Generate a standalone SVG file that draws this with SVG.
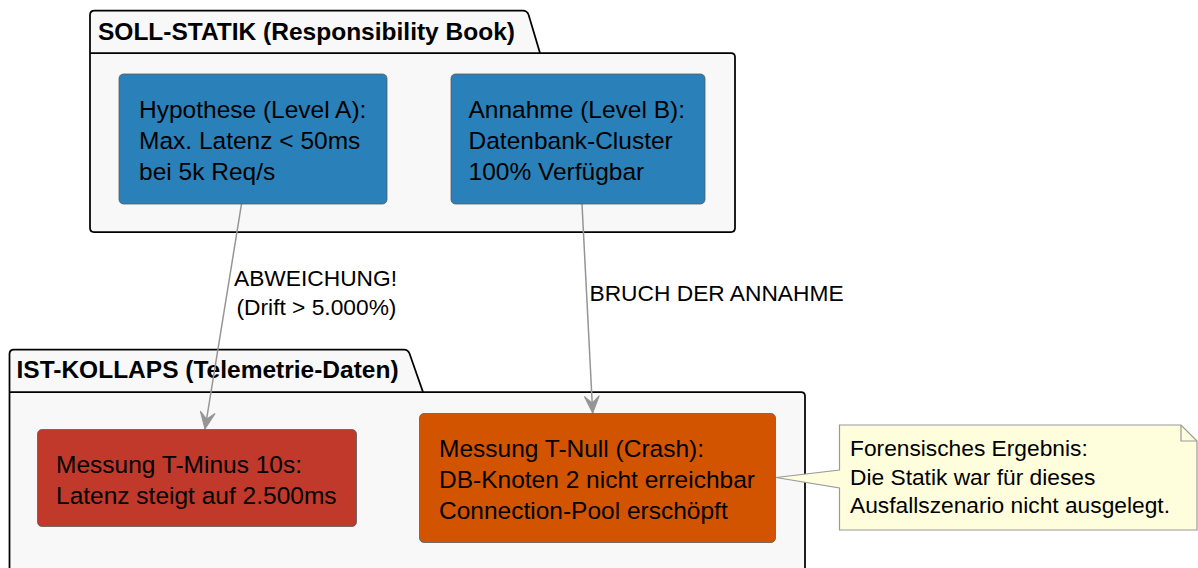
<svg xmlns="http://www.w3.org/2000/svg" width="1198" height="568" viewBox="0 0 1198 568">
<defs>
<style>
.pkg{fill:#F8F8F8;stroke:#000;stroke-width:1.75}
.ptitle{font-family:"Liberation Sans",Arial,sans-serif;font-weight:bold;font-size:24.5px;fill:#000}
.node{stroke:#5c5c5c;stroke-width:0.8}
.ntext{font-family:"Liberation Sans",Arial,sans-serif;font-size:24.5px;fill:#000}
.ltext{font-family:"Liberation Sans",Arial,sans-serif;font-size:22.75px;fill:#000}
.edge{fill:none;stroke:#959595;stroke-width:1.5}
.note{fill:#FEFEDD;stroke:#9a9a9a;stroke-width:1.2}
</style>
<marker id="arr" markerUnits="userSpaceOnUse" markerWidth="20" markerHeight="20" viewBox="-18 -9 20 18" refX="0" refY="0" orient="auto" overflow="visible">
<path d="M0,0 L-17,-7.5 L-10,0 L-17,7.5 Z" fill="#959595" stroke="#959595" stroke-width="1" stroke-linejoin="miter"/>
</marker>
</defs>
<rect x="0" y="0" width="1198" height="568" fill="#FFFFFF"/>

<g id="pkg-soll">
<path class="pkg" d="M90,53 L90,15 Q90,10.5 94.5,10.5 L523,10.5 Q527,10.5 528.5,14.5 L540,53 L731,53 Q735,53 735,57 L735,228 Q735,232 731,232 L94,232 Q90,232 90,228 Z"/>
<path d="M90,53 L540,53" stroke="#000" stroke-width="1.75" fill="none"/>
<text class="ptitle" x="98" y="40">SOLL-STATIK (Responsibility Book)</text>
</g>

<g id="pkg-ist">
<path class="pkg" d="M9.5,392 L9.5,354 Q9.5,349.5 14,349.5 L404,349.5 Q408,349.5 409.5,353.5 L423,392 L801,392 Q805,392 805,396 L805,600 L9.5,600 Z"/>
<path d="M9.5,392 L423,392" stroke="#000" stroke-width="1.75" fill="none"/>
<text class="ptitle" x="16.5" y="377.5">IST-KOLLAPS (Telemetrie-Daten)</text>
</g>

<g id="connectors">
<path class="edge" d="M241.5,204 L205,429" marker-end="url(#arr)"/>
<text class="ltext" x="234" y="286">ABWEICHUNG!</text>
<text class="ltext" x="236.5" y="315">(Drift &gt; 5.000%)</text>
<path class="edge" d="M582,204 L592.7,413" marker-end="url(#arr)"/>
<text class="ltext" x="589.5" y="300.5">BRUCH DER ANNAHME</text>
</g>

<g id="node-hypothese">
<rect class="node" x="119" y="74" width="268" height="130" rx="4.5" fill="#2A80B9"/>
<text class="ntext" x="139" y="117.5">Hypothese (Level A):</text>
<text class="ntext" x="139" y="148.5">Max. Latenz &lt; 50ms</text>
<text class="ntext" x="139" y="179.5">bei 5k Req/s</text>
</g>

<g id="node-annahme">
<rect class="node" x="451" y="74" width="254" height="130" rx="4.5" fill="#2A80B9"/>
<text class="ntext" x="468.5" y="117.5">Annahme (Level B):</text>
<text class="ntext" x="468.5" y="148.5">Datenbank-Cluster</text>
<text class="ntext" x="468.5" y="179.5">100% Verfügbar</text>
</g>

<g id="node-tminus">
<rect class="node" x="37.5" y="429.5" width="319" height="97" rx="4.5" fill="#C0392B"/>
<text class="ntext" x="56" y="473">Messung T-Minus 10s:</text>
<text class="ntext" x="56" y="503.5">Latenz steigt auf 2.500ms</text>
</g>

<g id="node-tnull">
<rect class="node" x="419.5" y="413.5" width="356" height="129" rx="4.5" fill="#D35400"/>
<text class="ntext" x="439" y="457">Messung T-Null (Crash):</text>
<text class="ntext" x="439" y="488">DB-Knoten 2 nicht erreichbar</text>
<text class="ntext" x="439" y="519">Connection-Pool erschöpft</text>
</g>

<g id="note-forensik">
<path class="note" d="M839.5,425 L1181,425 L1197,441 L1197,530 L839.5,530 L839.5,488 L776,477.5 L839.5,470 Z"/>
<path d="M1181,425 L1181,441 L1197,441" fill="none" stroke="#9a9a9a" stroke-width="1.2"/>
<text class="ltext" x="850" y="456">Forensisches Ergebnis:</text>
<text class="ltext" x="850" y="484.5">Die Statik war für dieses</text>
<text class="ltext" x="850" y="513">Ausfallszenario nicht ausgelegt.</text>
</g>
</svg>
